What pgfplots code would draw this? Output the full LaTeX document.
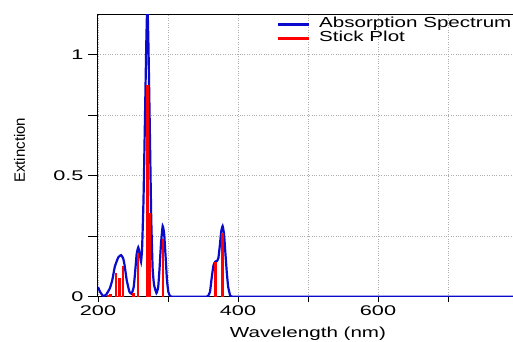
\documentclass[border=0pt]{standalone}
\usepackage{fontspec}
\setmainfont{Liberation Sans}
\newfontfamily\tickfont[FakeStretch=1.55]{Liberation Sans}
\newfontfamily\labfont[FakeStretch=1.42]{Liberation Sans}
\usepackage{pgfplots}
\pgfplotsset{compat=1.18}
\definecolor{specblue}{RGB}{10,10,205}
\definecolor{stickred}{RGB}{255,0,0}
\begin{document}
\begin{tikzpicture}
\begin{axis}[
  scale only axis,
  width=420pt, height=281.7pt,
  xmin=200, xmax=800,
  ymin=0, ymax=1.165,
  xtick={200,300,400,500,600,700},
  xticklabels={200,,400,,600,},
  ytick={0,0.25,0.5,0.75,1},
  yticklabels={0,,0.5,,1},
  xtick pos=bottom, ytick pos=left,
  tick align=outside,
  xtick style={/pgfplots/major tick length=5pt, line width=0.9pt, black},
  ytick style={/pgfplots/major tick length=10pt, line width=0.9pt, black},
  tick label style={font=\tickfont\fontsize{14}{14}\selectfont},
  yticklabel style={inner sep=0pt, xshift=-10pt},
  xticklabel style={inner sep=0pt, yshift=-5pt},
  grid=major,
  grid style={dotted, black!32, line width=0.9pt},
  axis line style={line width=1pt, black},
  xlabel={Wavelength (nm)},
  ylabel={Extinction},
  xlabel style={font=\labfont\fontsize{14.5}{14.5}\selectfont, at={(axis description cs:0.5,0)}, anchor=base, yshift=-41pt},
  ylabel style={font=\fontsize{15}{15}\selectfont, at={(axis description cs:-0.187,0.52)}, anchor=center},
  legend style={draw=none, fill=none, at={(axis cs:454.8,1.153)}, anchor=north west,
    inner sep=0pt, outer sep=0pt, row sep=0pt, column sep=9pt,
    font=\labfont\fontsize{14.5}{14}\selectfont,
    nodes={inner sep=0pt, text height=10pt, text depth=4pt}},
  legend cell align=left,
  legend image code/.code={\draw[#1, line width=2.8pt] (0pt,0pt) -- (31pt,0pt);},
  clip=true,
]
\addplot[specblue, line width=2.2pt, smooth, tension=0.25] coordinates {
(200,0.04) (203,0.02) (207.6,0.002) (212,0.01) (217,0.035) (220.5,0.07) (224,0.124)
(229,0.163) (233,0.172) (236,0.158) (238,0.13) (241,0.069) (244.8,0.021) (248,0.012)
(251,0.04) (253,0.1) (255.3,0.178) (257.5,0.204) (259.5,0.18) (261.5,0.145)
(263,0.2) (265,0.4) (267,0.72) (269,1.05) (270.5,1.22) (272,1.05) (274,0.7)
(276,0.33) (278,0.12) (280,0.05) (283.5,0.015) (286,0.04) (288,0.12) (290,0.22)
(292.4,0.292) (294.5,0.26) (296.5,0.17) (298.5,0.07) (300.5,0.02) (303,0.002)
(306,0) (309,0) (330,0) (351,0) (354,0) (357,0.002) (360,0.02) (362.5,0.08) (365,0.13) (367.5,0.145) (370,0.148)
(372,0.16) (374,0.21) (376,0.27) (378,0.292) (380,0.26) (382,0.18) (384,0.1)
(386,0.04) (389,0.003) (392,0) (395,0) (500,0) (797,0) (800,0)
};
\addlegendentry{Absorption Spectrum}
\addplot[stickred, line width=2.5pt, ycomb, forget plot] coordinates {
(214,0.008) (218,0.01) (225.7,0.097) (231,0.077) (235.7,0.128) (251,0.017)
(257,0.182) (270.5,0.875) (273.3,0.347) (292.6,0.24) (367.5,0.145) (377.5,0.265)
};
\addlegendimage{stickred, line width=2.8pt}
\addlegendentry{Stick Plot}
\end{axis}
\pgfresetboundingbox
\path[use as bounding box] ([shift={(-98pt,15pt)}]current axis.north west) rectangle ([shift={(415pt,-45.3pt)}]current axis.south west);
\end{tikzpicture}
\end{document}
